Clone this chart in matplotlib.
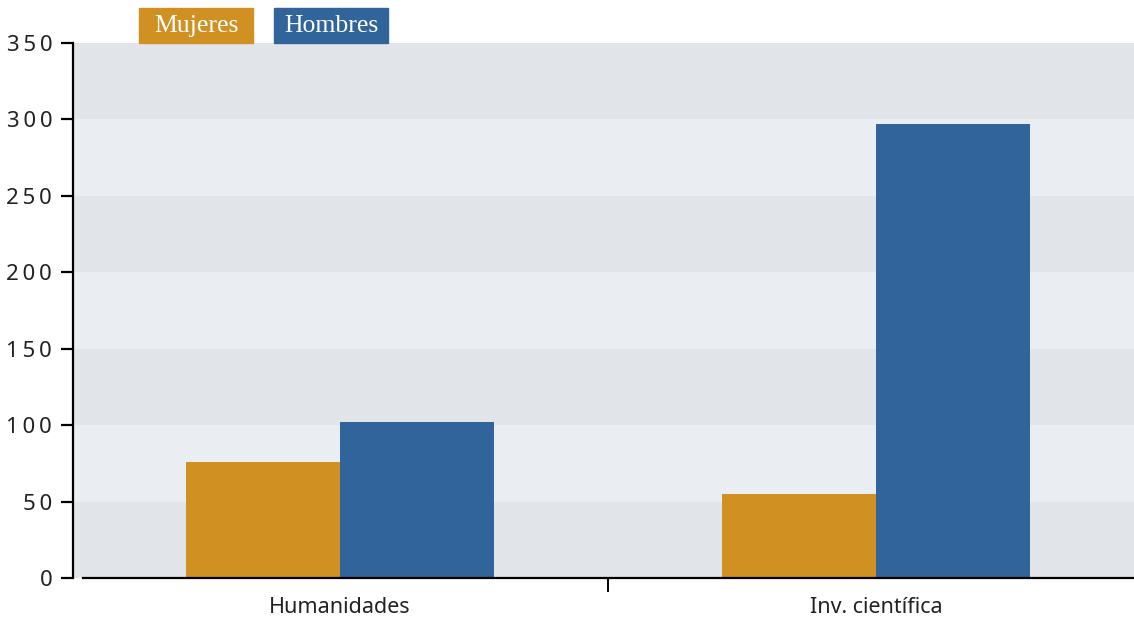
import numpy as np
import matplotlib.pyplot as plt
from matplotlib.patches import Rectangle

categorias = ['Humanidades', 'Inv. científica']
mujeres = [76, 55]
hombres = [102, 297]
series = ['Mujeres', 'Hombres']
colores = ['#D09122', '#30649B']
yticks = [0, 50, 100, 150, 200, 250, 300, 350]

fig = plt.figure(figsize=(11.34, 6.18), dpi=100)
ax = fig.add_axes([73 / 1134, 1 - 578 / 618, 1 - 73 / 1134, (578 - 43) / 618])

# bandas de fondo alternas
for i in range(len(yticks) - 1):
    c = '#E1E5E9' if i % 2 == 0 else '#EAEEF2'
    ax.axhspan(yticks[i], yticks[i + 1], color=c, zorder=0, lw=0)

x = np.arange(len(categorias))
w = 0.287
ax.bar(x - w / 2, mujeres, w, color=colores[0], zorder=2)
ax.bar(x + w / 2, hombres, w, color=colores[1], zorder=2)

ax.set_xlim(-0.498, 1.481)
ax.set_ylim(0, 350)

ax.spines['top'].set_visible(False)
ax.spines['right'].set_visible(False)
ax.spines['left'].set_linewidth(1.6)
ax.spines['bottom'].set_linewidth(1.6)
ax.spines['bottom'].set_bounds(-0.479, 1.481)

# numeros con espaciado amplio, como en el original
ax.set_yticks(yticks)
ax.set_yticklabels(['\u2009'.join(str(v)) for v in yticks], fontsize=16,
                   color='#222222', family=['Noto Sans', 'DejaVu Sans'],
                   fontweight='light')
ax.tick_params(axis='y', length=9, width=1.6, pad=6)
ax.set_xticks(x)
ax.set_xticklabels(categorias, fontsize=15.5, color='#222222', family='Noto Sans',
                   fontweight='light')
ax.tick_params(axis='x', length=0, pad=14)
ax.set_xticks([0.5], minor=True)
ax.tick_params(axis='x', which='minor', length=10, width=1.4)

# leyenda con cajas de color
cajas = [(139, 253), (274, 388)]
for (x0, x1), nombre, col in zip(cajas, series, colores):
    fig.patches.append(Rectangle((x0 / 1134, 1 - 43 / 618), (x1 - x0) / 1134, 35 / 618,
                                 transform=fig.transFigure, color=col, zorder=5))
    fig.text((x0 + x1) / 2 / 1134, 1 - 26 / 618, nombre, ha='center', va='center',
             color='white', fontsize=18.5, family='Liberation Serif',
             zorder=6)

fig.savefig('out.png', dpi=100)
